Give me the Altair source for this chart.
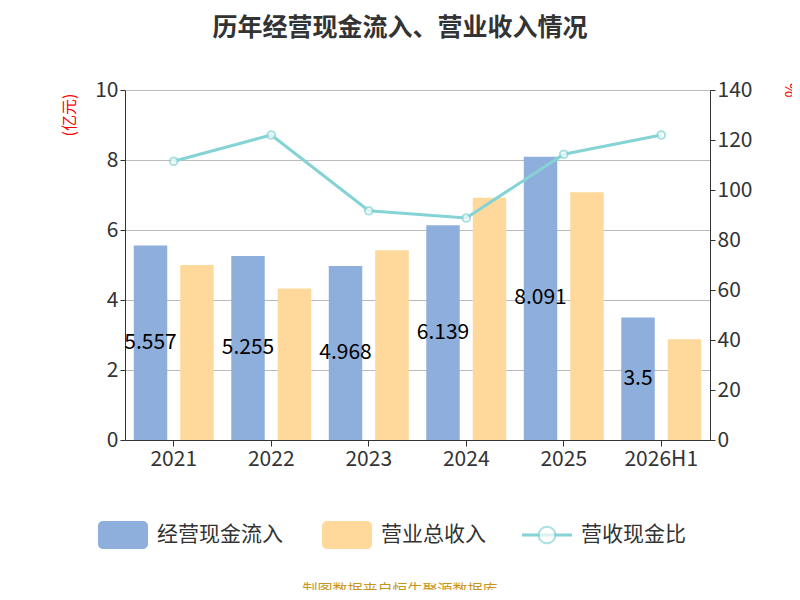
import altair as alt
import pandas as pd

years = ["2021", "2022", "2023", "2024", "2025", "2026H1"]
cash_in = [5.557, 5.255, 4.968, 6.139, 8.091, 3.5]
revenue = [5.0, 4.33, 5.42, 6.92, 7.08, 2.88]
ratio = [111.5, 122.0, 91.7, 88.8, 114.3, 122.0]
cash_labels = ["5.557", "5.255", "4.968", "6.139", "8.091", "3.5"]

FONT = "Noto Sans CJK SC"
BLUE = "#8eaedb"
ORANGE = "#fed99b"
TEAL = "#86d3d6"

bars = pd.DataFrame({
    "year": years * 2,
    "series": ["经营现金流入"] * 6 + ["营业总收入"] * 6,
    "value": cash_in + revenue,
})
cash = pd.DataFrame({"year": years, "value": cash_in, "label": cash_labels,
                     "half": [v / 2 for v in cash_in], "series": ["经营现金流入"] * 6})
line = pd.DataFrame({"year": years, "ratio": ratio})

xs = alt.X("year:N", sort=years, scale=alt.Scale(paddingInner=0.18, paddingOuter=0.09),
           axis=alt.Axis(title=None, labelAngle=0, labelFontSize=21, labelColor="#333",
                         labelFont=FONT, domainColor="#333", tickColor="#333", tickSize=6))
off = alt.XOffset("series:N", sort=["经营现金流入", "营业总收入"],
                  scale=alt.Scale(paddingInner=0.28))
yl = alt.Scale(domain=[0, 10])

bar = alt.Chart(bars).mark_bar().encode(
    x=xs, xOffset=off,
    y=alt.Y("value:Q", scale=yl, axis=alt.Axis(title=None, values=[0, 2, 4, 6, 8, 10],
            labelFontSize=21, labelColor="#333", labelFont=FONT, gridColor="#bbb",
            domainColor="#333", tickColor="#333")),
    color=alt.Color("series:N", scale=alt.Scale(domain=["经营现金流入", "营业总收入"],
                    range=[BLUE, ORANGE]), legend=None),
)
txt = alt.Chart(cash).mark_text(fontSize=21, font=FONT, color="#000").encode(
    x=alt.X("year:N", sort=years), xOffset=off,
    y=alt.Y("half:Q", scale=yl), text="label:N")

left = alt.layer(bar, txt)

ln = alt.Chart(line).mark_line(color=TEAL, strokeWidth=3).encode(
    x=alt.X("year:N", sort=years),
    y=alt.Y("ratio:Q", scale=alt.Scale(domain=[0, 140]),
            axis=alt.Axis(title=None, orient="right", values=list(range(0, 141, 20)),
                          labelFontSize=21, labelColor="#333", labelFont=FONT, grid=False,
                          domainColor="#333", tickColor="#333")))
pts = alt.Chart(line).mark_point(color=TEAL, fill="white", filled=True, size=60,
                                 strokeWidth=2, stroke=TEAL).encode(
    x=alt.X("year:N", sort=years), y=alt.Y("ratio:Q", scale=alt.Scale(domain=[0, 140])))
right = alt.layer(ln, pts)

one = pd.DataFrame({"a": [0]})
def label(t, x, y, **kw):
    return alt.Chart(one).mark_text(text=t, font=FONT, **kw).encode(
        x=alt.value(x), y=alt.value(y))

deco = [
    label("历年经营现金流入、营业收入情况", 275, -62, fontSize=25, fontWeight="bold", color="#333"),
    label("(亿元)", -55, 25, fontSize=16, color="red", angle=270),
    label("%", 665, 0, fontSize=16, color="red", angle=90),
    alt.Chart(one).mark_rect(color=BLUE, cornerRadius=5).encode(
        x=alt.value(-27), x2=alt.value(23), y=alt.value(431), y2=alt.value(459)),
    label("经营现金流入", 32, 445, fontSize=21, color="#333", align="left"),
    alt.Chart(one).mark_rect(color=ORANGE, cornerRadius=5).encode(
        x=alt.value(197), x2=alt.value(247), y=alt.value(431), y2=alt.value(459)),
    label("营业总收入", 256, 445, fontSize=21, color="#333", align="left"),
    alt.Chart(one).mark_rule(color=TEAL, strokeWidth=3).encode(
        x=alt.value(397), x2=alt.value(447), y=alt.value(445)),
    alt.Chart(one).mark_point(color=TEAL, fill="white", filled=True, size=280,
                              strokeWidth=2, stroke=TEAL).encode(
        x=alt.value(422), y=alt.value(445)),
    label("营收现金比", 456, 445, fontSize=21, color="#333", align="left"),
    label("制图数据来自恒生聚源数据库", 275, 500, fontSize=15, color="#c8961e"),
]

chart = alt.layer(left, right, *deco).resolve_scale(y="independent").properties(
    width=585, height=350, autosize="none",
    padding={"left": 117, "top": 82, "right": 82, "bottom": 150},
).configure_view(stroke=None).configure(background="white")

chart.save("out.html", embed_options={"renderer": "svg", "actions": False})
